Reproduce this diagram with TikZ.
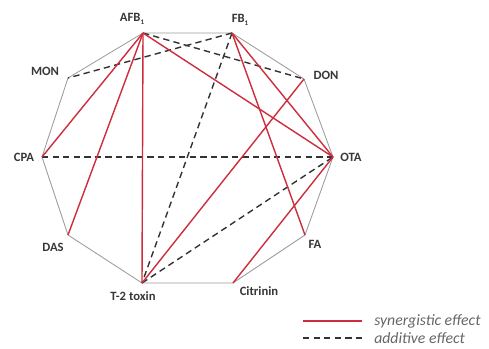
\documentclass[tikz,border=0pt]{standalone}
\usepackage{fontspec}
\setmainfont{Carlito}
\usetikzlibrary{positioning}
\definecolor{synred}{RGB}{205,45,60}
\definecolor{rimgray}{RGB}{155,155,155}
\definecolor{labgray}{RGB}{55,55,55}

\begin{document}
\begin{tikzpicture}[
    x=0.025cm, y=-0.025cm,
    lbl/.style={font=\fontsize{9}{10}\selectfont\bfseries, text=labgray, inner sep=0pt},
    rim/.style={draw=rimgray, line width=0.6pt},
    syn/.style={draw=synred, line width=1pt},
    add/.style={draw=black!80, line width=1pt, dash pattern=on 4.5pt off 3pt},
    legtext/.style={font=\fontsize{11.2}{13}\selectfont\itshape, text=black!60, anchor=west, inner sep=0pt}
]
\useasboundingbox (0,0) rectangle (489,349);

% ====================
%      Decagon
% ====================

% Vertices
\coordinate (afb) at (143,33);
\coordinate (fb) at (232,33);
\coordinate (don) at (304,79);
\coordinate (ota) at (333,157);
\coordinate (fa) at (305,235);
\coordinate (cit) at (233,283);
\coordinate (t2) at (142,283);
\coordinate (das) at (68,235);
\coordinate (cpa) at (42,157);
\coordinate (mon) at (68,78);

% Rim
\draw[rim] (afb) -- (fb) -- (don) -- (ota) -- (fa) -- (cit) -- (t2) -- (das) -- (cpa) -- (mon) -- cycle;

% Additive connections
\draw[add] (afb) -- (don);
\draw[add] (fb) -- (mon);
\draw[add] (fb) -- (t2);
\draw[add] (cpa) -- (ota);
\draw[add] (t2) -- (ota);

% Synergistic connections
\draw[syn] (afb) -- (cpa);
\draw[syn] (afb) -- (das);
\draw[syn] (afb) -- (t2);
\draw[syn] (afb) -- (ota);
\draw[syn] (fb) -- (ota);
\draw[syn] (fb) -- (fa);
\draw[syn] (don) -- (t2);
\draw[syn] (cit) -- (ota);

% Labels
\node[lbl] (afb_lbl) at (132,19) {AFB\raisebox{-0.5ex}{\tiny 1}};
\node[lbl] (fb_lbl) at (240,20) {FB\raisebox{-0.5ex}{\tiny 1}};
\node[lbl] (don_lbl) at (326,75) {DON};
\node[lbl] (ota_lbl) at (351,157) {OTA};
\node[lbl] (fa_lbl) at (315,244) {FA};
\node[lbl] (cit_lbl) at (259,291) {Citrinin};
\node[lbl] (t2_lbl) at (133,296) {T-2 toxin};
\node[lbl] (das_lbl) at (53,247) {DAS};
\node[lbl] (cpa_lbl) at (24,157) {CPA};
\node[lbl] (mon_lbl) at (45,71) {MON};

% ====================
%       Legend
% ====================
\coordinate (syn_a) at (303,321);
\coordinate (syn_b) at (362,321);
\draw[syn] (syn_a) -- (syn_b);
\node[legtext, right=0.3cm of syn_b] (syn_txt) {synergistic effect};

\coordinate (add_a) at (303,338);
\coordinate (add_b) at (362,338);
\draw[add] (add_a) -- (add_b);
\node[legtext, right=0.3cm of add_b] (add_txt) {additive effect};

\end{tikzpicture}
\end{document}
